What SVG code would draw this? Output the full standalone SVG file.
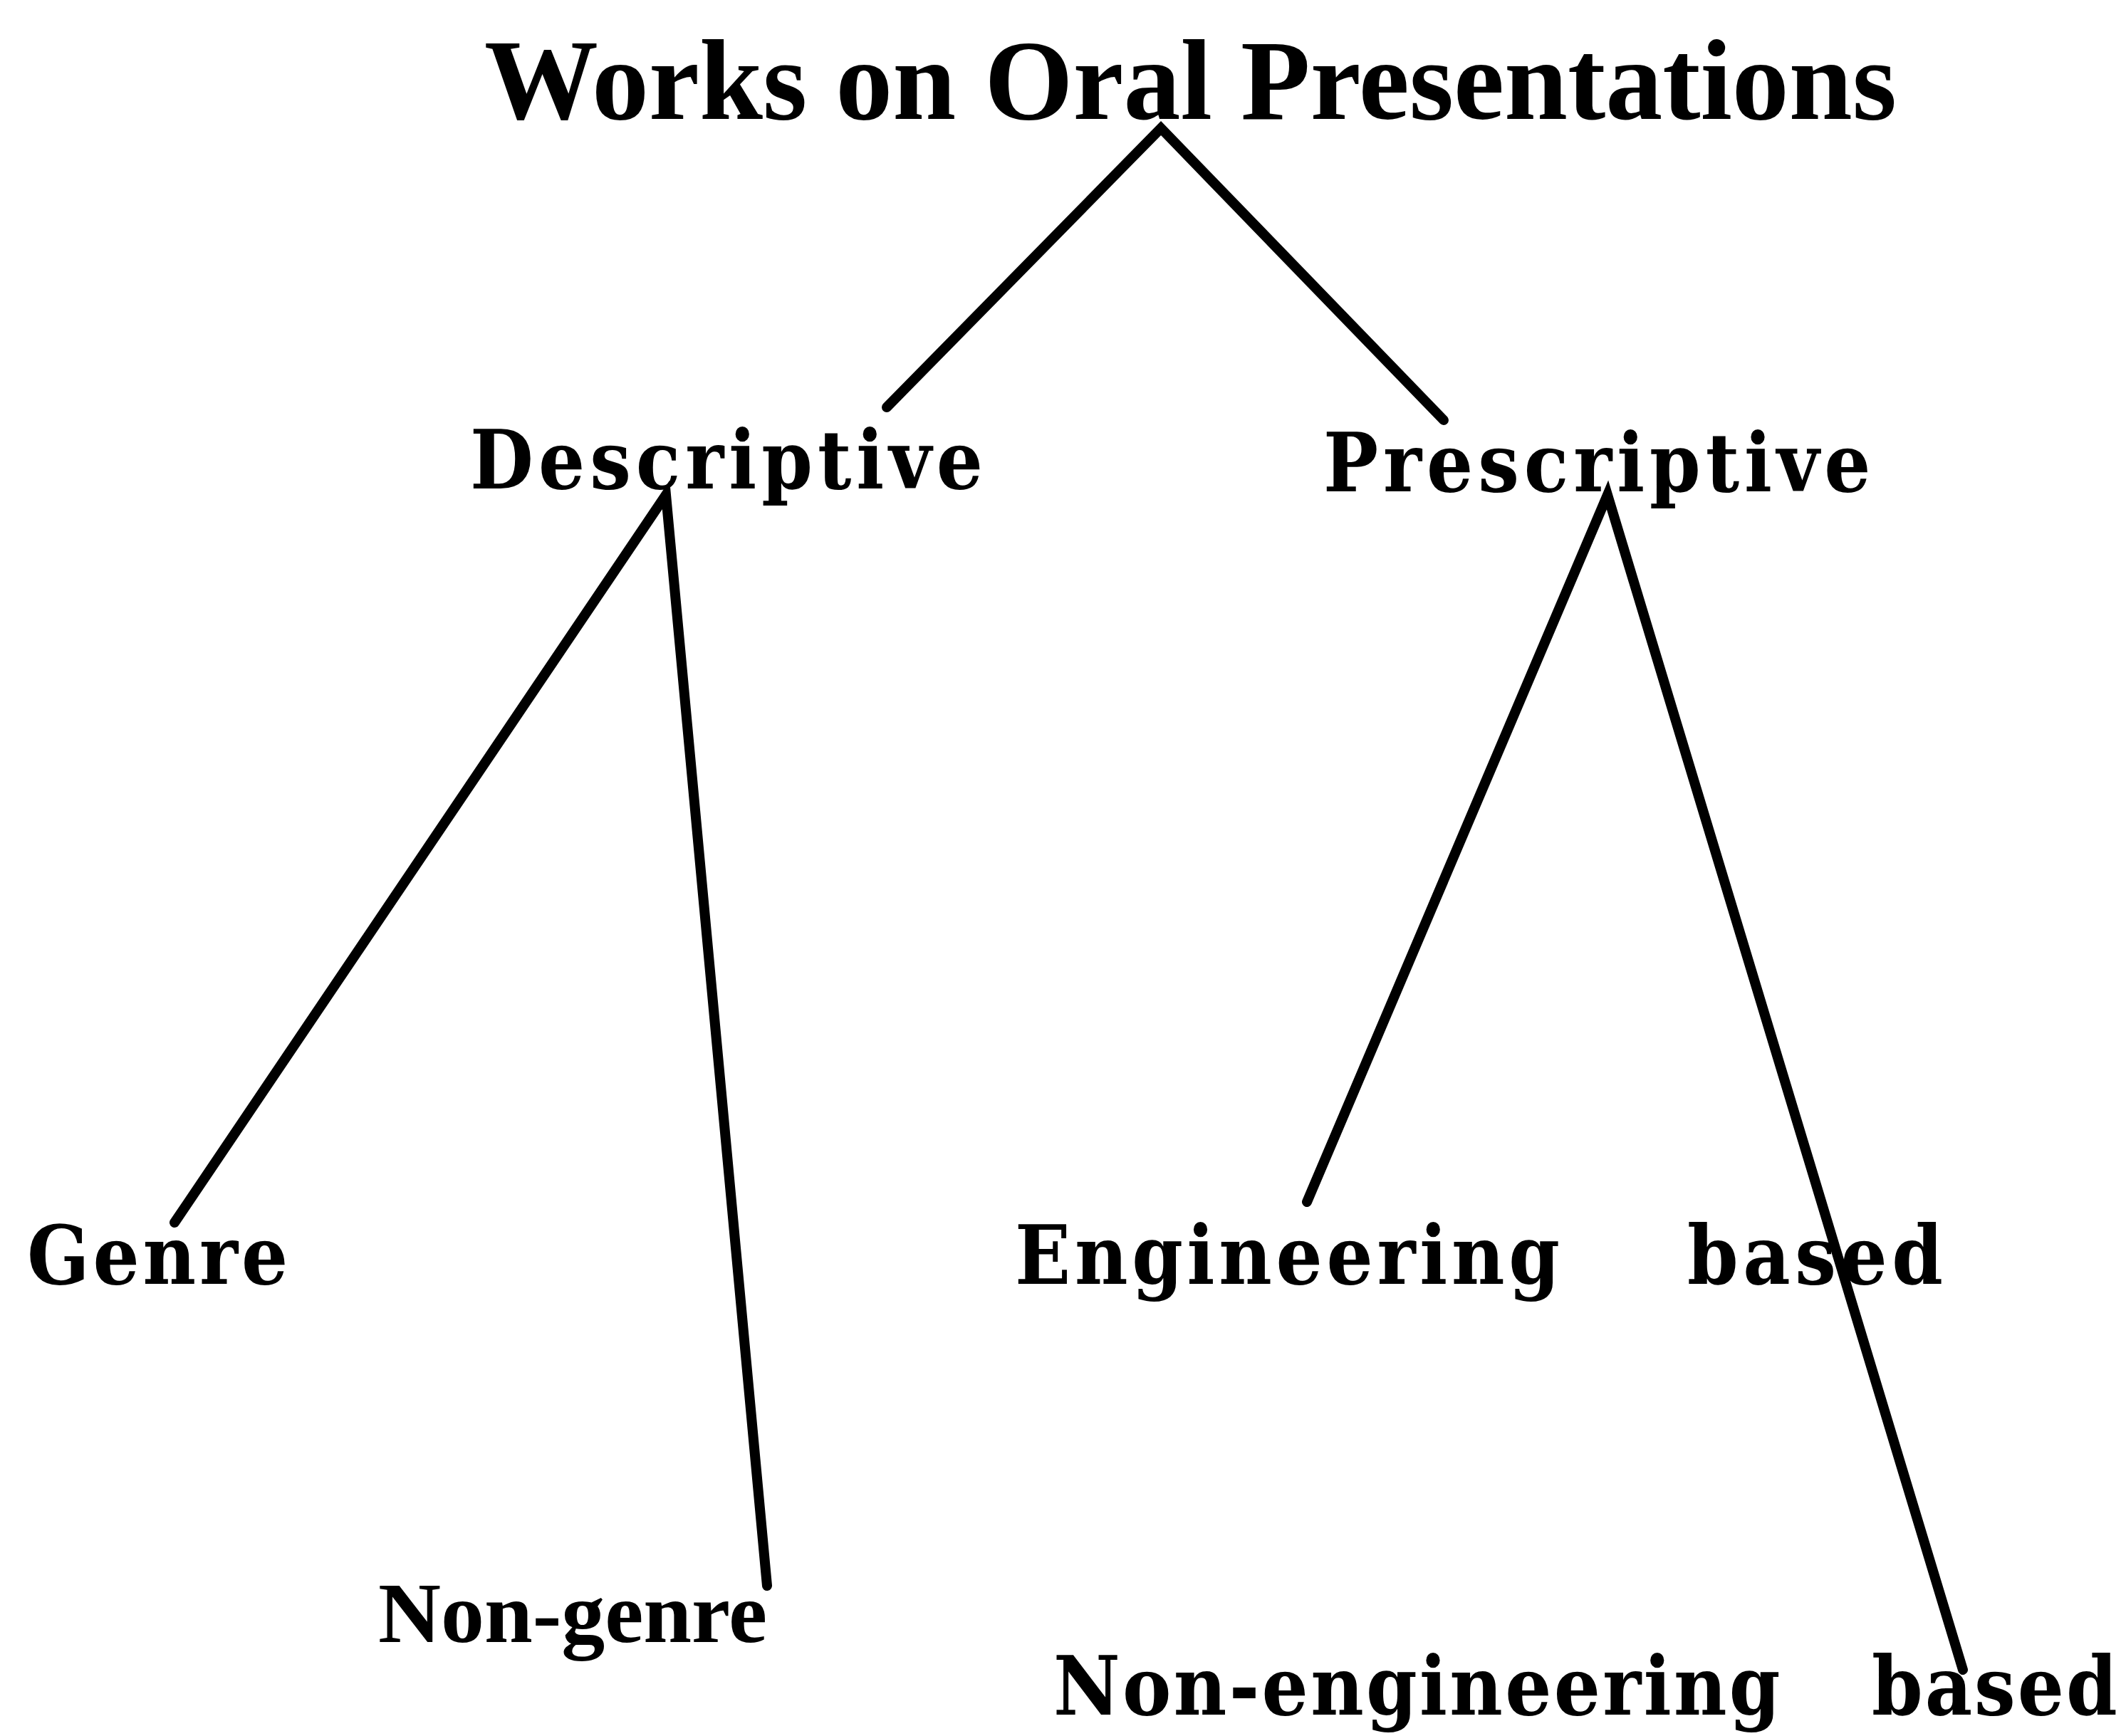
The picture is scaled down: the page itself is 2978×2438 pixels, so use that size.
<svg xmlns="http://www.w3.org/2000/svg" width="2978" height="2438" viewBox="0 0 2978 2438">
<style>
.serif{font-family:"Liberation Serif","DejaVu Serif",serif;font-weight:bold;fill:#000}
.type{font-family:"DejaVu Serif","Liberation Serif",serif;font-weight:bold;font-size:114px;fill:#000}
.edge{fill:none;stroke:#000;stroke-width:14;stroke-linecap:round;stroke-linejoin:miter;stroke-miterlimit:10}
</style>
<rect width="2978" height="2438" fill="#fff"/>
<g id="connectors">
<polyline class="edge" points="1245,572 1630,180 2027,590"/>
<polyline class="edge" points="245,1717 935,695 1077,2227"/>
<polyline class="edge" points="1835,1688 2257,695 2756,2345"/>
</g>
<g id="root"><text class="serif" x="680" y="167" font-size="160" textLength="1983" lengthAdjust="spacingAndGlyphs">Works on Oral Presentations</text></g>
<g id="descriptive"><text class="type" transform="translate(660,686) scale(0.9,1)" textLength="800" lengthAdjust="spacing">Descriptive</text></g>
<g id="prescriptive"><text class="type" transform="translate(1858,690) scale(0.9,1)" textLength="854" lengthAdjust="spacing">Prescriptive</text></g>
<g id="genre"><text class="type" transform="translate(38,1803) scale(0.9,1)" textLength="407" lengthAdjust="spacing">Genre</text></g>
<g id="non-genre"><text class="serif" x="531" y="2306" font-size="120" textLength="546" lengthAdjust="spacingAndGlyphs">Non-genre</text></g>
<g id="engineering">
<text class="type" transform="translate(1425,1803) scale(0.9,1)" textLength="850" lengthAdjust="spacing">Engineering</text>
<text class="type" transform="translate(2369,1803) scale(0.9,1)" textLength="399" lengthAdjust="spacing">based</text>
</g>
<g id="non-engineering">
<text class="type" transform="translate(1479,2408) scale(0.9,1)" textLength="1134" lengthAdjust="spacing">Non-engineering</text>
<text class="type" transform="translate(2628,2408) scale(0.9,1)" textLength="383" lengthAdjust="spacing">based</text>
</g>
</svg>
